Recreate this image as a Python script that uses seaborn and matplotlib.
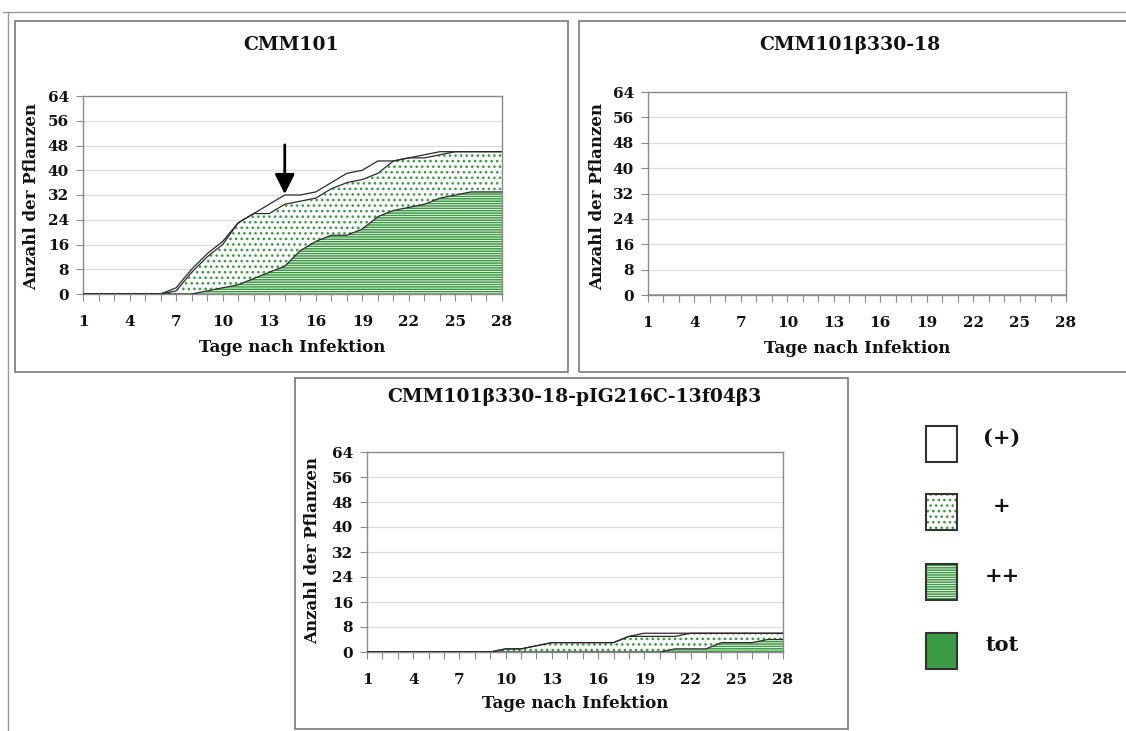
import numpy as np
import pandas as pd
import matplotlib
matplotlib.use('Agg')
import matplotlib.pyplot as plt
from matplotlib.patches import Rectangle
import seaborn as sns

# Tage 1..28, Anzahl der Pflanzen je Befallsklasse
days = list(range(1, 29))
xlabels = [str(d) if (d - 1) % 3 == 0 else '' for d in days]
yticks = list(range(0, 65, 8))
classes = ['tot', '++', '+', '(+)']

# CMM101
p1_tot = [0] * 28
p1_pp = [0, 0, 0, 0, 0, 0, 0, 0, 1, 2, 3, 5, 7, 9, 14, 17, 19, 19, 21, 25, 27, 28, 29, 31, 32, 33, 33, 33]
p1_p = [0, 0, 0, 0, 0, 0, 1, 7, 11, 14, 20, 21, 19, 20, 16, 14, 15, 17, 16, 14, 16, 16, 15, 14, 14, 13, 13, 13]
p1_w = [0, 0, 0, 0, 0, 0, 1, 1, 1, 1, 0, 0, 3, 3, 2, 2, 2, 3, 3, 4, 0, 0, 1, 1, 0, 0, 0, 0]

# CMM101b330-18
p2_tot = [0] * 28
p2_pp = [0] * 28
p2_p = [0] * 28
p2_w = [0] * 28

# CMM101b330-18-pIG216C-13f04b3
p3_tot = [0] * 28
p3_pp = [0] * 20 + [1, 1, 1, 3, 3, 3, 4, 4]
p3_p = [0, 0, 0, 0, 0, 0, 0, 0, 0, 1, 1, 2, 3, 3, 3, 3, 3, 5, 5, 5, 4, 5, 5, 3, 3, 3, 2, 2]
p3_w = [0, 0, 0, 0, 0, 0, 0, 0, 0, 0, 0, 0, 0, 0, 0, 0, 0, 0, 1, 1, 1, 0, 0, 0, 0, 0, 0, 0]

sns.set_style('white')
plt.rcParams['font.family'] = ['DejaVu Serif']
plt.rcParams['font.weight'] = 'bold'
plt.rcParams['text.color'] = '#111111'
plt.rcParams['xtick.color'] = '#111111'
plt.rcParams['ytick.color'] = '#111111'
plt.rcParams['hatch.linewidth'] = 1.1

W, H = 1126, 731
fig = plt.figure(figsize=(W / 100, H / 100), dpi=100)


def rect(x0, y0, x1, y1):
    return [x0 / W, 1 - y1 / H, (x1 - x0) / W, (y1 - y0) / H]


def fx(x):
    return x / W


def fy(y):
    return 1 - y / H


green = '#3c9a42'
styles = {
    'tot': dict(facecolor=green, edgecolor=green, hatch=None),
    '++': dict(facecolor='white', edgecolor=green, hatch='-------'),
    '+': dict(facecolor='white', edgecolor=green, hatch='...'),
    '(+)': dict(facecolor='white', edgecolor='white', hatch=None),
}

# Rahmen
fig.add_artist(plt.Line2D([fx(3), fx(1126)], [fy(12), fy(12)], color='#999999', lw=1))
fig.add_artist(plt.Line2D([fx(8), fx(8)], [fy(12), fy(731)], color='#999999', lw=1))
for b in [(15, 21, 568, 372), (579, 21, 1130, 372), (295, 378, 848, 729)]:
    fig.add_artist(Rectangle((fx(b[0]), fy(b[3])), (b[2] - b[0]) / W, (b[3] - b[1]) / H,
                             transform=fig.transFigure, facecolor='none',
                             edgecolor='#777777', lw=1.2))

panels = [
    dict(title='CMM101', data=[p1_tot, p1_pp, p1_p, p1_w],
         ax=(83, 96, 502, 294), tpos=(291, 45), ylpos=(32, 196), xlpos=(292, 347)),
    dict(title='CMM101β330-18', data=[p2_tot, p2_pp, p2_p, p2_w],
         ax=(648, 92, 1066, 295), tpos=(850, 45), ylpos=(598, 196), xlpos=(857, 348)),
    dict(title='CMM101β330-18-pIG216C-13f04β3', data=[p3_tot, p3_pp, p3_p, p3_w],
         ax=(367, 452, 783, 652), tpos=(574, 397), ylpos=(313, 550), xlpos=(575, 704)),
]

for i, p in enumerate(panels):
    ax = fig.add_axes(rect(*p['ax']))
    df = pd.DataFrame(dict(zip(classes, p['data'])), index=days)
    lower = np.zeros(len(days))
    for c in classes:
        upper = lower + df[c].values
        st = styles[c]
        ax.fill_between(days, lower, upper, facecolor=st['facecolor'],
                        edgecolor=st['edgecolor'], hatch=st['hatch'], lw=0, zorder=2)
        lower = upper
    # Grenzlinien
    lower = np.zeros(len(days))
    for c in classes:
        upper = lower + df[c].values
        if c != 'tot':
            sns.lineplot(x=days, y=upper, color='#2a2a2a', lw=0.9, ax=ax, zorder=3)
        lower = upper

    ax.set_xlim(1, 28)
    ax.set_ylim(0, 64)
    ax.set_yticks(yticks)
    ax.set_xticks(days)
    ax.set_xticklabels(xlabels)
    ax.grid(axis='y', color='#dcdcdc', lw=0.9)
    ax.set_axisbelow(True)
    for s in ax.spines.values():
        s.set_color('#8a8a8a')
        s.set_linewidth(1)
    ax.tick_params(axis='x', bottom=True, direction='out', length=5, color='#8a8a8a',
                   labelsize=11, pad=10)
    ax.tick_params(axis='y', left=True, direction='out', length=5, color='#8a8a8a',
                   labelsize=11, pad=5)
    plt.setp(ax.get_xticklabels() + ax.get_yticklabels(), fontweight='bold')

    fig.text(fx(p['tpos'][0]), fy(p['tpos'][1]), p['title'], ha='center', va='center',
             fontsize=13.5, fontweight='bold')
    fig.text(fx(p['ylpos'][0]), fy(p['ylpos'][1]), 'Anzahl der Pflanzen', ha='center',
             va='center', rotation=90, fontsize=12, fontweight='bold')
    fig.text(fx(p['xlpos'][0]), fy(p['xlpos'][1]), 'Tage nach Infektion', ha='center',
             va='center', fontsize=12, fontweight='bold')

    if i == 0:
        ax.annotate('', xy=(14, 32.3), xytext=(14, 48.2),
                    arrowprops=dict(arrowstyle='-|>', color='black', lw=2,
                                    mutation_scale=30, shrinkA=0, shrinkB=0), zorder=5)

# Legende
leg = [('(+)', 426), ('+', 494), ('++', 564), ('tot', 633)]
for name, y0 in leg:
    st = styles[name]
    fig.add_artist(Rectangle((fx(926), fy(y0 + 36)), 31 / W, 36 / H, transform=fig.transFigure,
                             facecolor=st['facecolor'], edgecolor=st['edgecolor'],
                             hatch=st['hatch'], lw=0))
    fig.add_artist(Rectangle((fx(926), fy(y0 + 36)), 31 / W, 36 / H, transform=fig.transFigure,
                             facecolor='none', edgecolor='#333333', lw=1.5))
    fig.text(fx(1002), fy(y0 + 12), name, ha='center', va='center', fontsize=15,
             fontweight='bold')

fig.savefig('out.png', dpi=100)
